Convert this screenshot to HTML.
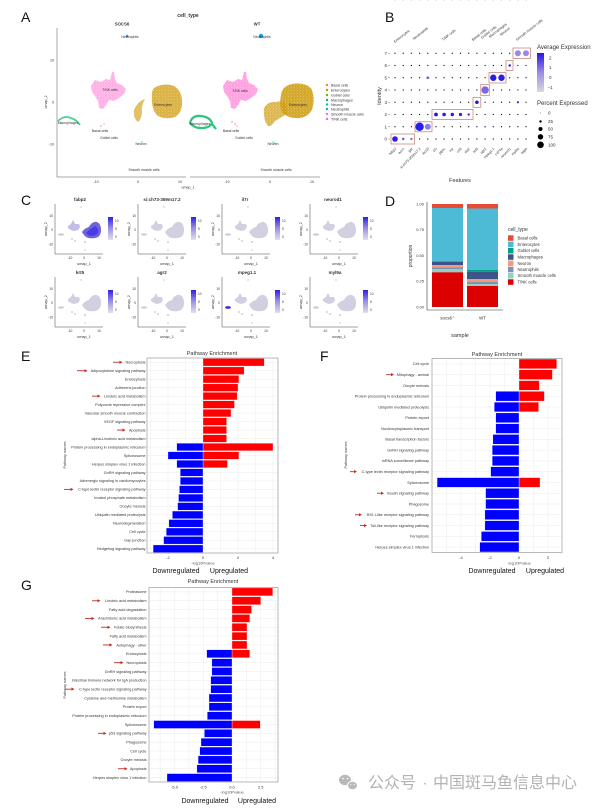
<!DOCTYPE html>
<html><head><meta charset="utf-8">
<style>
html,body{margin:0;padding:0;background:#fff;width:606px;height:812px;overflow:hidden;}
svg{display:block;}
text{font-family:"Liberation Sans","Noto Sans CJK SC",sans-serif;fill:#333;}
.pl{font-size:14px;fill:#111;}
.lab{font-size:3.8px;fill:#444;text-anchor:end;}
.tk{font-size:4px;fill:#555;text-anchor:middle;}
.ud{font-size:7px;fill:#111;text-anchor:middle;}
.ttl{font-size:5.5px;fill:#333;text-anchor:middle;}
.sm{font-size:3.6px;fill:#333;}
.g{stroke:#ebebeb;stroke-width:0.5;}
</style></head><body>
<svg width="606" height="812" viewBox="0 0 606 812" xmlns="http://www.w3.org/2000/svg">
<defs>
<linearGradient id="cbB" x1="0" y1="1" x2="0" y2="0"><stop offset="0" stop-color="#d9d9d9"/><stop offset="0.5" stop-color="#9a8ce6"/><stop offset="1" stop-color="#2a17e0"/></linearGradient>
<linearGradient id="cbC" x1="0" y1="1" x2="0" y2="0"><stop offset="0" stop-color="#e2e0ec"/><stop offset="0.5" stop-color="#9d92e2"/><stop offset="1" stop-color="#2d1ee8"/></linearGradient>
<pattern id="spk" width="3" height="3" patternUnits="userSpaceOnUse">
<circle cx="0.7" cy="0.8" r="0.45" fill="#fff" opacity="0.7"/><circle cx="2.2" cy="2.1" r="0.35" fill="#fff" opacity="0.6"/>
</pattern>
<g id="mini">
<line x1="0" y1="-50" x2="0" y2="0" stroke="#444" stroke-width="0.5"/>
<line x1="0" y1="0" x2="48" y2="0" stroke="#444" stroke-width="0.5"/>
<path d="M13,-28 L16,-30 L18,-34 L20,-30 L24,-30 L25,-27 L23,-24 L19,-23 L16,-24 L13,-26Z" fill="#d2cfe0"/>
<path d="M27,-22 Q30,-26 34,-27 Q37,-33 42,-32 Q46,-30 46,-24 Q46,-17 40,-16 Q33,-15 30,-18 Q28,-20 27,-22Z" fill="#d2cfe0"/>
<ellipse cx="6" cy="-19.5" rx="3" ry="1.3" fill="#cfcbe0"/>
<circle cx="17" cy="-15" r="0.6" fill="#888"/><circle cx="20" cy="-13" r="0.6" fill="#888"/>
<circle cx="30" cy="-12" r="0.6" fill="#777"/><circle cx="30" cy="-4" r="0.5" fill="#777"/>
<circle cx="26" cy="-47" r="0.5" fill="#777"/>
<rect x="53" y="-37" width="5" height="23" fill="url(#cbC)"/>
</g>
</defs>

<!-- Panel letters -->
<text class="pl" x="21" y="22">A</text>
<text class="pl" x="385" y="22">B</text>
<text class="pl" x="21" y="205">C</text>
<text class="pl" x="385" y="206">D</text>
<text class="pl" x="21" y="361">E</text>
<text class="pl" x="320" y="361">F</text>
<text class="pl" x="21" y="590">G</text>

<!-- ============ Panel A ============ -->
<text x="188" y="17" style="font-size:5px;font-weight:bold;text-anchor:middle">cell_type</text>
<text x="122" y="25.5" style="font-size:4.3px;font-weight:bold;text-anchor:middle">SOCS6</text>
<text x="257" y="25.5" style="font-size:4.3px;font-weight:bold;text-anchor:middle">WT</text>
<line x1="57" y1="28" x2="57" y2="177" stroke="#555" stroke-width="0.5"/>
<line x1="57" y1="177" x2="186" y2="177" stroke="#555" stroke-width="0.5"/>
<line x1="190" y1="177" x2="320" y2="177" stroke="#555" stroke-width="0.5"/>
<g class="sm" style="text-anchor:end">
<text x="54" y="61.5">10</text><text x="54" y="103.5">0</text><text x="54" y="145.5">-10</text>
</g>
<g class="sm" style="text-anchor:middle">
<text x="96" y="183">-10</text><text x="138" y="183">0</text><text x="180" y="183">10</text>
<text x="227" y="183">-10</text><text x="270" y="183">0</text><text x="312" y="183">10</text>
</g>
<text x="188" y="188.5" class="sm" style="text-anchor:middle">umap_1</text>
<text transform="translate(47,102) rotate(-90)" class="sm" style="text-anchor:middle">umap_2</text>
<!-- facet 1 -->
<path id="pk1" d="M91,86 L95,80 L101,82 L106,79 L110,80 L112,72 L114,72 L115,79 L117,83 L122,85 L126,89 L124,94 L119,98 L114,101 L109,100 L106,105 L103,109 L99,108 L98,101 L95,96 L92,92Z" fill="#FF61CC" opacity="0.5"/>
<path d="M91,86 L95,80 L101,82 L106,79 L110,80 L112,72 L114,72 L115,79 L117,83 L122,85 L126,89 L124,94 L119,98 L114,101 L109,100 L106,105 L103,109 L99,108 L98,101 L95,96 L92,92Z" fill="url(#spk)"/>
<path d="M152,96 Q151,88 158,86 Q166,83 174,86 Q181,90 182,100 Q183,112 175,117 Q166,120 158,116 Q151,110 152,96Z" fill="#CD9600" opacity="0.75"/>
<path d="M152,96 Q151,88 158,86 Q166,83 174,86 Q181,90 182,100 Q183,112 175,117 Q166,120 158,116 Q151,110 152,96Z" fill="url(#spk)"/>
<path d="M134,110 Q138,101 145,99 Q141,106 142,113 Q141,120 138,122 Q133,118 134,110Z" fill="#CD9600" opacity="0.6"/>
<path d="M58,121 Q64,115 71,118 Q77,120 80,125" stroke="#00BE67" stroke-width="1.8" fill="none" opacity="0.7"/>
<circle cx="127" cy="36" r="1.3" fill="#00A9FF"/>
<circle cx="101" cy="126" r="0.7" fill="#F8766D"/><circle cx="104" cy="124" r="0.6" fill="#F8766D"/>
<circle cx="142" cy="142" r="0.6" fill="#00BFC4"/>
<!-- facet 2 -->
<path d="M223,86 L227,80 L233,82 L238,79 L242,80 L244,72 L246,72 L247,79 L249,83 L254,85 L258,89 L256,94 L251,98 L246,101 L241,100 L238,105 L235,109 L231,108 L230,101 L227,96 L224,92Z" fill="#FF61CC" opacity="0.6"/>
<path d="M223,86 L227,80 L233,82 L238,79 L242,80 L244,72 L246,72 L247,79 L249,83 L254,85 L258,89 L256,94 L251,98 L246,101 L241,100 L238,105 L235,109 L231,108 L230,101 L227,96 L224,92Z" fill="url(#spk)"/>
<path d="M281,95 Q282,86 292,84 Q304,82 311,88 Q315,96 313,106 Q311,116 300,118 Q288,119 282,112 Q279,104 281,95Z" fill="#CD9600" opacity="0.85"/>
<path d="M281,95 Q282,86 292,84 Q304,82 311,88 Q315,96 313,106 Q311,116 300,118 Q288,119 282,112 Q279,104 281,95Z" fill="url(#spk)"/>
<path d="M264,108 Q268,101 276,102 Q282,100 286,104 L287,114 Q280,118 275,121 Q271,127 268,126 Q263,120 264,108Z" fill="#CD9600" opacity="0.7"/>
<path d="M264,108 Q268,101 276,102 Q282,100 286,104 L287,114 Q280,118 275,121 Q271,127 268,126 Q263,120 264,108Z" fill="url(#spk)"/>
<path d="M190,123 Q192,115 201,116 Q210,117 212,123 Q210,128 201,128 Q194,128 190,123Z M212,124 L216,129" stroke="#00BE67" stroke-width="2.2" fill="none" opacity="0.85"/>
<circle cx="261" cy="36" r="2.2" fill="#00A9FF"/>
<circle cx="232" cy="122" r="0.7" fill="#F8766D"/><circle cx="235" cy="124" r="0.7" fill="#F8766D"/><circle cx="237" cy="126" r="0.6" fill="#F8766D"/>
<circle cx="273" cy="142" r="0.6" fill="#00BFC4"/><circle cx="275" cy="143" r="0.6" fill="#00BFC4"/>
<g style="font-size:3.4px;fill:#222;text-anchor:middle">
<text x="130" y="38">Neutrophils</text><text x="110" y="91">T/NK cells</text><text x="163" y="106">Enterocytes</text>
<text x="68" y="124">Macrophages</text><text x="100" y="132">Basal cells</text><text x="109" y="139">Goblet cells</text>
<text x="141" y="145">Neuron</text><text x="144" y="171">Smooth muscle cells</text>
<text x="262" y="38">Neutrophils</text><text x="240" y="92">T/NK cells</text><text x="298" y="106">Enterocytes</text>
<text x="200" y="125">Macrophages</text><text x="231" y="132">Basal cells</text><text x="244" y="139">Goblet cells</text>
<text x="273" y="145">Neuron</text><text x="276" y="171">Smooth muscle cells</text>
</g>
<g style="font-size:3.6px;fill:#333">
<circle cx="327" cy="85" r="1.2" fill="#F8766D"/><text x="331" y="86.3">Basal cells</text>
<circle cx="327" cy="90" r="1.2" fill="#CD9600"/><text x="331" y="91.3">Enterocytes</text>
<circle cx="327" cy="95" r="1.2" fill="#7CAE00"/><text x="331" y="96.3">Goblet cells</text>
<circle cx="327" cy="100" r="1.2" fill="#00BE67"/><text x="331" y="101.3">Macrophages</text>
<circle cx="327" cy="104.5" r="1.2" fill="#00BFC4"/><text x="331" y="105.8">Neuron</text>
<circle cx="327" cy="109" r="1.2" fill="#00A9FF"/><text x="331" y="110.3">Neutrophils</text>
<circle cx="327" cy="114" r="1.2" fill="#C77CFF"/><text x="331" y="115.3">Smooth muscle cells</text>
<circle cx="327" cy="119" r="1.2" fill="#FF61CC"/><text x="331" y="120.3">T/NK cells</text>
</g>

<!-- ============ Panel B ============ -->
<g style="font-size:3.6px;fill:#333">
<text transform="translate(395,43) rotate(-38)">Enterocytes</text>
<text transform="translate(414,40) rotate(-38)">Neutrophils</text>
<text transform="translate(443,41) rotate(-38)">T/NK cells</text>
<text transform="translate(473,41) rotate(-38)">Basal cells</text>
<text transform="translate(482,39) rotate(-38)">Goblet cells</text>
<text transform="translate(490,38) rotate(-38)">Macrophages</text>
<text transform="translate(501,36) rotate(-38)">Neuron</text>
<text transform="translate(517,41) rotate(-38)">Smooth muscle cells</text>
</g>
<g style="font-size:4.5px;fill:#333;text-anchor:end">
<text x="387" y="140.5">0</text><text x="387" y="128.3">1</text><text x="387" y="116">2</text><text x="387" y="103.8">3</text>
<text x="387" y="91.5">4</text><text x="387" y="79.3">5</text><text x="387" y="67">6</text><text x="387" y="54.8">7</text>
</g>
<g stroke="#555" stroke-width="0.4">
<line x1="388" y1="139" x2="390" y2="139"/><line x1="388" y1="126.75" x2="390" y2="126.75"/><line x1="388" y1="114.5" x2="390" y2="114.5"/><line x1="388" y1="102.25" x2="390" y2="102.25"/>
<line x1="388" y1="90" x2="390" y2="90"/><line x1="388" y1="77.75" x2="390" y2="77.75"/><line x1="388" y1="65.5" x2="390" y2="65.5"/><line x1="388" y1="53.25" x2="390" y2="53.25"/>
</g>
<text transform="translate(381,96) rotate(-90)" style="font-size:5.5px;text-anchor:middle">Identity</text>
<g fill="#bdbdbd">
<g id="brow">
<circle cx="395" cy="0" r="0.6"/><circle cx="403.2" cy="0" r="0.6"/><circle cx="411.4" cy="0" r="0.6"/><circle cx="419.6" cy="0" r="0.6"/><circle cx="427.8" cy="0" r="0.6"/><circle cx="436" cy="0" r="0.6"/><circle cx="444.1" cy="0" r="0.6"/><circle cx="452.3" cy="0" r="0.6"/><circle cx="460.5" cy="0" r="0.6"/><circle cx="468.7" cy="0" r="0.6"/><circle cx="476.9" cy="0" r="0.6"/><circle cx="485.1" cy="0" r="0.6"/><circle cx="493.3" cy="0" r="0.6"/><circle cx="501.5" cy="0" r="0.6"/><circle cx="509.7" cy="0" r="0.6"/><circle cx="517.9" cy="0" r="0.6"/><circle cx="526" cy="0" r="0.6"/>
</g>
</g>
<use href="#brow" y="139"/><use href="#brow" y="126.75"/><use href="#brow" y="114.5"/><use href="#brow" y="102.25"/>
<use href="#brow" y="90"/><use href="#brow" y="77.75"/><use href="#brow" y="65.5"/><use href="#brow" y="53.25"/>
<g fill="none" stroke="#c07a72" stroke-width="0.7">
<rect x="391" y="134" width="23.5" height="10"/>
<rect x="415" y="121.8" width="17" height="10"/>
<rect x="432" y="109.5" width="41" height="10"/>
<rect x="473" y="97.3" width="7.8" height="10"/>
<rect x="480.8" y="84.5" width="8.5" height="11"/>
<rect x="489" y="72.5" width="17" height="10.5"/>
<rect x="506" y="60.5" width="7" height="10"/>
<rect x="513" y="48" width="17.5" height="10.5"/>
</g>
<circle cx="395" cy="139" r="2.8" fill="#2a1fe6"/><circle cx="403.2" cy="139" r="1.2" fill="#5a4ee0"/><circle cx="411.4" cy="139" r="1.1" fill="#6a60e0"/>
<circle cx="419.6" cy="126.75" r="4.2" fill="#2a1fe6"/><circle cx="427.8" cy="126.75" r="3" fill="#8a7ce4"/><circle cx="485.1" cy="126.75" r="0.9" fill="#6a60d0"/>
<circle cx="436" cy="114.5" r="1.9" fill="#2418d8"/><circle cx="444.1" cy="114.5" r="1.8" fill="#2a1ed8"/><circle cx="452.3" cy="114.5" r="1.7" fill="#2a1ed8"/><circle cx="460.5" cy="114.5" r="1.6" fill="#3024d8"/><circle cx="468.7" cy="114.5" r="1.1" fill="#3024d8"/>
<circle cx="476.9" cy="102.25" r="1.8" fill="#2418d8"/><circle cx="517.9" cy="102.25" r="1.1" fill="#3a30d8"/>
<circle cx="485.1" cy="90" r="3.7" fill="#7a68e6"/>
<circle cx="427.8" cy="77.75" r="1.4" fill="#6a5ee0"/><circle cx="493.3" cy="77.75" r="3.2" fill="#2a1fe6"/><circle cx="501.5" cy="77.75" r="3.2" fill="#2a1fe6"/>
<circle cx="509.7" cy="65.5" r="1.2" fill="#2418d8"/>
<circle cx="517.9" cy="53.25" r="3" fill="#9a88e8"/><circle cx="526" cy="53.25" r="3" fill="#9a88e8"/>
<g style="font-size:3.5px;fill:#333;text-anchor:end">
<text transform="translate(396.5,149) rotate(-45)">fabp2</text>
<text transform="translate(404.7,149) rotate(-45)">aoc1</text>
<text transform="translate(412.9,149) rotate(-45)">gsr</text>
<text transform="translate(421.1,149) rotate(-45)">si:ch73-359m17.2</text>
<text transform="translate(429.3,149) rotate(-45)">lect2l</text>
<text transform="translate(437.5,149) rotate(-45)">il7r</text>
<text transform="translate(445.6,149) rotate(-45)">ptprc</text>
<text transform="translate(453.8,149) rotate(-45)">lck</text>
<text transform="translate(462,149) rotate(-45)">cd3</text>
<text transform="translate(470.2,149) rotate(-45)">sla2</text>
<text transform="translate(478.4,149) rotate(-45)">krt5</text>
<text transform="translate(486.6,149) rotate(-45)">agr2</text>
<text transform="translate(494.8,149) rotate(-45)">mpeg1.1</text>
<text transform="translate(503,149) rotate(-45)">cd74a</text>
<text transform="translate(511.2,149) rotate(-45)">neurod1</text>
<text transform="translate(519.4,149) rotate(-45)">myl9a</text>
<text transform="translate(527.5,149) rotate(-45)">tagln</text>
</g>
<text x="460" y="182" style="font-size:5.5px;text-anchor:middle">Features</text>
<text x="537" y="49" style="font-size:6px">Average Expression</text>
<rect x="537" y="53" width="7" height="39" fill="url(#cbB)"/>
<g style="font-size:4.5px;fill:#333">
<text x="549" y="59.5">2</text><text x="549" y="69">1</text><text x="549" y="79">0</text><text x="547.5" y="89">−1</text>
</g>
<text x="537" y="105" style="font-size:6px">Percent Expressed</text>
<circle cx="540.5" cy="113" r="0.35" fill="#000"/><circle cx="540.5" cy="121.5" r="1.2" fill="#000"/><circle cx="540.5" cy="129" r="2" fill="#000"/><circle cx="540.5" cy="136.8" r="2.7" fill="#000"/><circle cx="540.5" cy="144.8" r="3.3" fill="#000"/>
<g style="font-size:4.5px;fill:#333">
<text x="548" y="114.5">0</text><text x="548" y="123">25</text><text x="548" y="130.5">50</text><text x="548" y="138.3">75</text><text x="548" y="146.3">100</text>
</g>

<!-- ============ Panel C ============ -->
<use href="#mini" x="55" y="254"/><use href="#mini" x="138" y="254"/><use href="#mini" x="222" y="254"/><use href="#mini" x="310" y="254"/>
<use href="#mini" x="55" y="327"/><use href="#mini" x="138" y="327"/><use href="#mini" x="222" y="327"/><use href="#mini" x="310" y="327"/>
<path d="M82,232 Q85,228 89,227 Q92,221 97,222 Q101,224 101,230 Q101,237 95,238 Q88,239 85,236 Q83,234 82,232Z" fill="#6f62de"/>
<path d="M86,233 Q90,229 95,226 Q99,228 98,233 Q95,236 90,236Z" fill="#4a3ce0"/>
<path d="M68,226 L71,224 L73,220 L75,224 L79,224 L80,227 L78,230 L74,231 L71,230 L68,228Z" fill="#c4bde8"/>
<ellipse cx="228" cy="307.5" rx="3" ry="1.4" fill="#4030d8"/>
<g style="font-size:4.5px;font-weight:bold;text-anchor:middle;fill:#222">
<text x="80" y="201">fabp2</text><text x="162" y="201">si:ch73-359m17.2</text><text x="245" y="201">il7r</text><text x="333" y="201">neurod1</text>
<text x="80" y="274">krt5</text><text x="162" y="274">agr2</text><text x="247" y="274">mpeg1.1</text><text x="335" y="274">myl9a</text>
</g>
<g style="font-size:3.3px;fill:#444;text-anchor:end">
<text x="53" y="217">10</text><text x="53" y="231">0</text><text x="53" y="245.5">-10</text>
<text x="136" y="217">10</text><text x="136" y="231">0</text><text x="136" y="245.5">-10</text>
<text x="220" y="217">10</text><text x="220" y="231">0</text><text x="220" y="245.5">-10</text>
<text x="308" y="217">10</text><text x="308" y="231">0</text><text x="308" y="245.5">-10</text>
<text x="53" y="290">10</text><text x="53" y="304">0</text><text x="53" y="318.5">-10</text>
<text x="136" y="290">10</text><text x="136" y="304">0</text><text x="136" y="318.5">-10</text>
<text x="220" y="290">10</text><text x="220" y="304">0</text><text x="220" y="318.5">-10</text>
<text x="308" y="290">10</text><text x="308" y="304">0</text><text x="308" y="318.5">-10</text>
</g>
<g style="font-size:3.3px;fill:#444;text-anchor:middle">
<text x="70" y="259">-10</text><text x="84" y="259">0</text><text x="99" y="259">10</text>
<text x="153" y="259">-10</text><text x="167" y="259">0</text><text x="182" y="259">10</text>
<text x="237" y="259">-10</text><text x="251" y="259">0</text><text x="266" y="259">10</text>
<text x="325" y="259">-10</text><text x="339" y="259">0</text><text x="354" y="259">10</text>
<text x="70" y="332">-10</text><text x="84" y="332">0</text><text x="99" y="332">10</text>
<text x="153" y="332">-10</text><text x="167" y="332">0</text><text x="182" y="332">10</text>
<text x="237" y="332">-10</text><text x="251" y="332">0</text><text x="266" y="332">10</text>
<text x="325" y="332">-10</text><text x="339" y="332">0</text><text x="354" y="332">10</text>
</g>
<g style="font-size:3.8px;fill:#333;text-anchor:middle">
<text x="84" y="265">umap_1</text><text x="167" y="265">umap_1</text><text x="251" y="265">umap_1</text><text x="339" y="265">umap_1</text>
<text x="84" y="338">umap_1</text><text x="167" y="338">umap_1</text><text x="251" y="338">umap_1</text><text x="339" y="338">umap_1</text>
<text transform="translate(47,229) rotate(-90)">umap_2</text><text transform="translate(130,229) rotate(-90)">umap_2</text><text transform="translate(214,229) rotate(-90)">umap_2</text><text transform="translate(302,229) rotate(-90)">umap_2</text>
<text transform="translate(47,302) rotate(-90)">umap_2</text><text transform="translate(130,302) rotate(-90)">umap_2</text><text transform="translate(214,302) rotate(-90)">umap_2</text><text transform="translate(302,302) rotate(-90)">umap_2</text>
</g>
<g style="font-size:3.2px;fill:#444">
<text x="115" y="222">10</text><text x="115" y="230">5</text><text x="115" y="238">0</text>
<text x="198" y="222">10</text><text x="198" y="230">5</text><text x="198" y="238">0</text>
<text x="282" y="222">10</text><text x="282" y="230">5</text><text x="282" y="238">0</text>
<text x="370" y="222">10</text><text x="370" y="230">5</text><text x="370" y="238">0</text>
<text x="115" y="295">10</text><text x="115" y="303">5</text><text x="115" y="311">0</text>
<text x="198" y="295">10</text><text x="198" y="303">5</text><text x="198" y="311">0</text>
<text x="282" y="295">10</text><text x="282" y="303">5</text><text x="282" y="311">0</text>
<text x="370" y="295">10</text><text x="370" y="303">5</text><text x="370" y="311">0</text>
</g>

<!-- ============ Panel D ============ -->
<line x1="427" y1="202" x2="427" y2="310" stroke="#333" stroke-width="0.6"/>
<line x1="427" y1="310" x2="503" y2="310" stroke="#333" stroke-width="0.6"/>
<g style="font-size:4px;fill:#444;text-anchor:end">
<text x="424" y="205.5">1.00</text><text x="424" y="231.2">0.75</text><text x="424" y="256.9">0.50</text><text x="424" y="282.6">0.25</text><text x="424" y="308.3">0.00</text>
</g>
<rect x="432" y="204" width="31" height="4" fill="#E64B35"/>
<rect x="432" y="208" width="31" height="54" fill="#4DBBD5"/>
<rect x="432" y="261.7" width="31" height="3.3" fill="#3C5488"/>
<rect x="432" y="265" width="31" height="2.3" fill="#F39B7F"/>
<rect x="432" y="267.3" width="31" height="2" fill="#8491B4"/>
<rect x="432" y="269.3" width="31" height="3" fill="#91D1C2"/>
<rect x="432" y="272.3" width="31" height="34.7" fill="#DC0000"/>
<rect x="467" y="204" width="31" height="4.5" fill="#E64B35"/>
<rect x="467" y="208.5" width="31" height="61.5" fill="#4DBBD5"/>
<rect x="467" y="270" width="31" height="1.7" fill="#00A087"/>
<rect x="467" y="271.7" width="31" height="7.3" fill="#3C5488"/>
<rect x="467" y="279" width="31" height="2.7" fill="#F39B7F"/>
<rect x="467" y="281.7" width="31" height="2.3" fill="#8491B4"/>
<rect x="467" y="284" width="31" height="2" fill="#91D1C2"/>
<rect x="467" y="286" width="31" height="21" fill="#DC0000"/>
<text x="447.5" y="319.5" style="font-size:4.5px;text-anchor:middle">socs6<tspan dy="-1.5" style="font-size:3px">-/-</tspan></text>
<text x="482.5" y="319.5" style="font-size:4.5px;text-anchor:middle">WT</text>
<text x="460" y="337" style="font-size:5.5px;text-anchor:middle">sample</text>
<text transform="translate(412,256) rotate(-90)" style="font-size:5px;text-anchor:middle">proportion</text>
<text x="508" y="231" style="font-size:5px">cell_type</text>
<g style="font-size:4.2px;fill:#333">
<rect x="508" y="235.3" width="5.5" height="5.5" fill="#E64B35"/><text x="517.5" y="239.5">Basal cells</text>
<rect x="508" y="241.6" width="5.5" height="5.5" fill="#4DBBD5"/><text x="517.5" y="245.8">Enterocytes</text>
<rect x="508" y="248" width="5.5" height="5.5" fill="#00A087"/><text x="517.5" y="252.2">Goblet cells</text>
<rect x="508" y="254.3" width="5.5" height="5.5" fill="#3C5488"/><text x="517.5" y="258.5">Macrophages</text>
<rect x="508" y="260.6" width="5.5" height="5.5" fill="#F39B7F"/><text x="517.5" y="264.8">Neuron</text>
<rect x="508" y="266.8" width="5.5" height="5.5" fill="#8491B4"/><text x="517.5" y="271">Neutrophils</text>
<rect x="508" y="273" width="5.5" height="5.5" fill="#91D1C2"/><text x="517.5" y="277.2">Smooth muscle cells</text>
<rect x="508" y="279.3" width="5.5" height="5.5" fill="#DC0000"/><text x="517.5" y="283.5">T/NK cells</text>
</g>

<!-- ============ Panel E ============ -->
<text class="ttl" x="212" y="355">Pathway Enrichment</text>
<g class="g">
<line x1="150.5" y1="358" x2="150.5" y2="553"/><line x1="168" y1="358" x2="168" y2="553"/><line x1="185.5" y1="358" x2="185.5" y2="553"/><line x1="203" y1="358" x2="203" y2="553"/><line x1="220.5" y1="358" x2="220.5" y2="553"/><line x1="238" y1="358" x2="238" y2="553"/><line x1="255.5" y1="358" x2="255.5" y2="553"/><line x1="273" y1="358" x2="273" y2="553"/>
<line x1="147" y1="362.24" x2="278" y2="362.24"/><line x1="147" y1="370.72" x2="278" y2="370.72"/><line x1="147" y1="379.2" x2="278" y2="379.2"/><line x1="147" y1="387.67" x2="278" y2="387.67"/><line x1="147" y1="396.15" x2="278" y2="396.15"/><line x1="147" y1="404.63" x2="278" y2="404.63"/><line x1="147" y1="413.11" x2="278" y2="413.11"/><line x1="147" y1="421.59" x2="278" y2="421.59"/><line x1="147" y1="430.07" x2="278" y2="430.07"/><line x1="147" y1="438.54" x2="278" y2="438.54"/><line x1="147" y1="447.02" x2="278" y2="447.02"/><line x1="147" y1="455.5" x2="278" y2="455.5"/><line x1="147" y1="463.98" x2="278" y2="463.98"/><line x1="147" y1="472.46" x2="278" y2="472.46"/><line x1="147" y1="480.93" x2="278" y2="480.93"/><line x1="147" y1="489.41" x2="278" y2="489.41"/><line x1="147" y1="497.89" x2="278" y2="497.89"/><line x1="147" y1="506.37" x2="278" y2="506.37"/><line x1="147" y1="514.85" x2="278" y2="514.85"/><line x1="147" y1="523.33" x2="278" y2="523.33"/><line x1="147" y1="531.8" x2="278" y2="531.8"/><line x1="147" y1="540.28" x2="278" y2="540.28"/><line x1="147" y1="548.76" x2="278" y2="548.76"/>
</g>
<g fill="#ff0000" stroke="#fff" stroke-width="0.3">
<rect x="203" y="358.44" width="61.3" height="7.6"/><rect x="203" y="366.92" width="41.1" height="7.6"/><rect x="203" y="375.4" width="35.9" height="7.6"/><rect x="203" y="383.87" width="35" height="7.6"/><rect x="203" y="392.35" width="34.1" height="7.6"/><rect x="203" y="400.83" width="31.5" height="7.6"/><rect x="203" y="409.31" width="28" height="7.6"/><rect x="203" y="417.79" width="23.6" height="7.6"/><rect x="203" y="426.27" width="23.6" height="7.6"/><rect x="203" y="434.74" width="23.6" height="7.6"/><rect x="203" y="443.22" width="70" height="7.6"/><rect x="203" y="451.7" width="35.9" height="7.6"/><rect x="203" y="460.18" width="24.5" height="7.6"/>
</g>
<g fill="#0000ff" stroke="#fff" stroke-width="0.3">
<rect x="176.75" y="443.22" width="26.25" height="7.6"/><rect x="168" y="451.7" width="35" height="7.6"/><rect x="176.75" y="460.18" width="26.25" height="7.6"/><rect x="180.25" y="468.66" width="22.75" height="7.6"/><rect x="180.25" y="477.13" width="22.75" height="7.6"/><rect x="179.4" y="485.61" width="23.6" height="7.6"/><rect x="178.5" y="494.09" width="24.5" height="7.6"/><rect x="177.6" y="502.57" width="25.4" height="7.6"/><rect x="172.4" y="511.05" width="30.6" height="7.6"/><rect x="168.9" y="519.53" width="34.1" height="7.6"/><rect x="166.25" y="528" width="36.75" height="7.6"/><rect x="163.6" y="536.48" width="39.4" height="7.6"/><rect x="153.1" y="544.96" width="49.9" height="7.6"/>
</g>
<rect x="147" y="358" width="131" height="195" fill="none" stroke="#8a8a8a" stroke-width="0.6"/>
<g class="lab">
<text x="145.5" y="363.5">Necroptosis</text><text x="145.5" y="372">Adipocytokine signaling pathway</text><text x="145.5" y="380.5">Endocytosis</text><text x="145.5" y="389">Adherens junction</text><text x="145.5" y="397.4">Linoleic acid metabolism</text><text x="145.5" y="405.9">Polycomb repressive complex</text><text x="145.5" y="414.4">Vascular smooth muscle contraction</text><text x="145.5" y="422.9">VEGF signaling pathway</text><text x="145.5" y="431.4">Apoptosis</text><text x="145.5" y="439.8">alpha-Linolenic acid metabolism</text><text x="145.5" y="448.3">Protein processing in endoplasmic reticulum</text><text x="145.5" y="456.8">Spliceosome</text><text x="145.5" y="465.3">Herpes simplex virus 1 infection</text><text x="145.5" y="473.8">GnRH signaling pathway</text><text x="145.5" y="482.2">Adrenergic signaling in cardiomyocytes</text><text x="145.5" y="490.7">C-type lectin receptor signaling pathway</text><text x="145.5" y="499.2">Inositol phosphate metabolism</text><text x="145.5" y="507.7">Oocyte meiosis</text><text x="145.5" y="516.2">Ubiquitin mediated proteolysis</text><text x="145.5" y="524.6">Neurodegeneration</text><text x="145.5" y="533.1">Cell cycle</text><text x="145.5" y="541.6">Gap junction</text><text x="145.5" y="550.1">Hedgehog signaling pathway</text>
</g>
<text transform="translate(66,455) rotate(-90)" style="font-size:3.8px;text-anchor:middle;fill:#444">Pathway names</text>
<g class="tk"><text x="168" y="559">-2</text><text x="203" y="559">0</text><text x="238" y="559">2</text><text x="273" y="559">4</text></g>
<text class="tk" x="203" y="564.5">-log10Pvalue</text>
<text class="ud" x="176" y="573">Downregulated</text><text class="ud" x="229" y="573">Upregulated</text>

<!-- ============ Panel F ============ -->
<text class="ttl" x="497" y="356">Pathway Enrichment</text>
<g class="g">
<line x1="446.5" y1="358.5" x2="446.5" y2="552.5"/><line x1="461" y1="358.5" x2="461" y2="552.5"/><line x1="475.5" y1="358.5" x2="475.5" y2="552.5"/><line x1="490" y1="358.5" x2="490" y2="552.5"/><line x1="504.5" y1="358.5" x2="504.5" y2="552.5"/><line x1="519" y1="358.5" x2="519" y2="552.5"/><line x1="533.5" y1="358.5" x2="533.5" y2="552.5"/><line x1="548" y1="358.5" x2="548" y2="552.5"/>
<line x1="432" y1="363.89" x2="562" y2="363.89"/><line x1="432" y1="374.67" x2="562" y2="374.67"/><line x1="432" y1="385.45" x2="562" y2="385.45"/><line x1="432" y1="396.22" x2="562" y2="396.22"/><line x1="432" y1="407" x2="562" y2="407"/><line x1="432" y1="417.78" x2="562" y2="417.78"/><line x1="432" y1="428.56" x2="562" y2="428.56"/><line x1="432" y1="439.34" x2="562" y2="439.34"/><line x1="432" y1="450.11" x2="562" y2="450.11"/><line x1="432" y1="460.89" x2="562" y2="460.89"/><line x1="432" y1="471.67" x2="562" y2="471.67"/><line x1="432" y1="482.45" x2="562" y2="482.45"/><line x1="432" y1="493.23" x2="562" y2="493.23"/><line x1="432" y1="504.01" x2="562" y2="504.01"/><line x1="432" y1="514.78" x2="562" y2="514.78"/><line x1="432" y1="525.56" x2="562" y2="525.56"/><line x1="432" y1="536.34" x2="562" y2="536.34"/><line x1="432" y1="547.12" x2="562" y2="547.12"/>
</g>
<g fill="#ff0000" stroke="#fff" stroke-width="0.3">
<rect x="519" y="359.04" width="37.7" height="9.7"/><rect x="519" y="369.82" width="33.4" height="9.7"/><rect x="519" y="380.6" width="20.3" height="9.7"/><rect x="519" y="391.37" width="25.4" height="9.7"/><rect x="519" y="402.15" width="19.6" height="9.7"/><rect x="519" y="477.6" width="21" height="9.7"/>
</g>
<g fill="#0000ff" stroke="#fff" stroke-width="0.3">
<rect x="495.8" y="391.37" width="23.2" height="9.7"/><rect x="494.3" y="402.15" width="24.7" height="9.7"/><rect x="495.8" y="412.93" width="23.2" height="9.7"/><rect x="495.8" y="423.71" width="23.2" height="9.7"/><rect x="492.9" y="434.49" width="26.1" height="9.7"/><rect x="492.2" y="445.26" width="26.8" height="9.7"/><rect x="492.2" y="456.04" width="26.8" height="9.7"/><rect x="490.7" y="466.82" width="28.3" height="9.7"/><rect x="437.1" y="477.6" width="81.9" height="9.7"/><rect x="485.6" y="488.38" width="33.4" height="9.7"/><rect x="485.6" y="499.16" width="33.4" height="9.7"/><rect x="484.9" y="509.93" width="34.1" height="9.7"/><rect x="484.9" y="520.71" width="34.1" height="9.7"/><rect x="481.3" y="531.49" width="37.7" height="9.7"/><rect x="479.8" y="542.27" width="39.2" height="9.7"/>
</g>
<rect x="432" y="358.5" width="130" height="194" fill="none" stroke="#8a8a8a" stroke-width="0.6"/>
<g class="lab">
<text x="429" y="365.2">Cell cycle</text><text x="429" y="376">Mitophagy - animal</text><text x="429" y="386.8">Oocyte meiosis</text><text x="429" y="397.5">Protein processing in endoplasmic reticulum</text><text x="429" y="408.3">Ubiquitin mediated proteolysis</text><text x="429" y="419.1">Protein export</text><text x="429" y="429.9">Nucleocytoplasmic transport</text><text x="429" y="440.6">Basal transcription factors</text><text x="429" y="451.4">GnRH signaling pathway</text><text x="429" y="462.2">mRNA surveillance pathway</text><text x="429" y="473">C-type lectin receptor signaling pathway</text><text x="429" y="483.8">Spliceosome</text><text x="429" y="494.5">Insulin signaling pathway</text><text x="429" y="505.3">Phagosome</text><text x="429" y="516.1">RIG-I-like receptor signaling pathway</text><text x="429" y="526.9">Toll-like receptor signaling pathway</text><text x="429" y="537.6">Ferroptosis</text><text x="429" y="548.4">Herpes simplex virus 1 infection</text>
</g>
<text transform="translate(347,455) rotate(-90)" style="font-size:3.8px;text-anchor:middle;fill:#444">Pathway names</text>
<g class="tk"><text x="461" y="559">-4</text><text x="490" y="559">-2</text><text x="519" y="559">0</text><text x="548" y="559">2</text></g>
<text class="tk" x="519" y="564.5">-log10Pvalue</text>
<text class="ud" x="492" y="573">Downregulated</text><text class="ud" x="545" y="573">Upregulated</text>

<!-- ============ Panel G ============ -->
<text class="ttl" x="213" y="583">Pathway Enrichment</text>
<g class="g">
<line x1="160.1" y1="587.5" x2="160.1" y2="782"/><line x1="174.5" y1="587.5" x2="174.5" y2="782"/><line x1="188.9" y1="587.5" x2="188.9" y2="782"/><line x1="203.25" y1="587.5" x2="203.25" y2="782"/><line x1="217.6" y1="587.5" x2="217.6" y2="782"/><line x1="232" y1="587.5" x2="232" y2="782"/><line x1="246.4" y1="587.5" x2="246.4" y2="782"/><line x1="260.75" y1="587.5" x2="260.75" y2="782"/><line x1="275.1" y1="587.5" x2="275.1" y2="782"/>
<line x1="149" y1="591.92" x2="278" y2="591.92"/><line x1="149" y1="600.76" x2="278" y2="600.76"/><line x1="149" y1="609.6" x2="278" y2="609.6"/><line x1="149" y1="618.44" x2="278" y2="618.44"/><line x1="149" y1="627.28" x2="278" y2="627.28"/><line x1="149" y1="636.12" x2="278" y2="636.12"/><line x1="149" y1="644.96" x2="278" y2="644.96"/><line x1="149" y1="653.8" x2="278" y2="653.8"/><line x1="149" y1="662.64" x2="278" y2="662.64"/><line x1="149" y1="671.48" x2="278" y2="671.48"/><line x1="149" y1="680.32" x2="278" y2="680.32"/><line x1="149" y1="689.16" x2="278" y2="689.16"/><line x1="149" y1="698" x2="278" y2="698"/><line x1="149" y1="706.84" x2="278" y2="706.84"/><line x1="149" y1="715.68" x2="278" y2="715.68"/><line x1="149" y1="724.52" x2="278" y2="724.52"/><line x1="149" y1="733.36" x2="278" y2="733.36"/><line x1="149" y1="742.2" x2="278" y2="742.2"/><line x1="149" y1="751.04" x2="278" y2="751.04"/><line x1="149" y1="759.88" x2="278" y2="759.88"/><line x1="149" y1="768.72" x2="278" y2="768.72"/><line x1="149" y1="777.56" x2="278" y2="777.56"/>
</g>
<g fill="#ff0000" stroke="#fff" stroke-width="0.3">
<rect x="232" y="587.94" width="40.8" height="7.95"/><rect x="232" y="596.78" width="28.75" height="7.95"/><rect x="232" y="605.62" width="19.55" height="7.95"/><rect x="232" y="614.46" width="17.8" height="7.95"/><rect x="232" y="623.3" width="15" height="7.95"/><rect x="232" y="632.14" width="15" height="7.95"/><rect x="232" y="640.98" width="15" height="7.95"/><rect x="232" y="649.82" width="17.8" height="7.95"/><rect x="232" y="720.54" width="28.2" height="7.95"/>
</g>
<g fill="#0000ff" stroke="#fff" stroke-width="0.3">
<rect x="206.7" y="649.82" width="25.3" height="7.95"/><rect x="211.9" y="658.66" width="20.1" height="7.95"/><rect x="211.9" y="667.5" width="20.1" height="7.95"/><rect x="210.7" y="676.34" width="21.3" height="7.95"/><rect x="210.7" y="685.18" width="21.3" height="7.95"/><rect x="209" y="694.02" width="23" height="7.95"/><rect x="209" y="702.86" width="23" height="7.95"/><rect x="207.3" y="711.7" width="24.7" height="7.95"/><rect x="153.8" y="720.54" width="78.2" height="7.95"/><rect x="204.4" y="729.38" width="27.6" height="7.95"/><rect x="201" y="738.22" width="31" height="7.95"/><rect x="199.8" y="747.06" width="32.2" height="7.95"/><rect x="198.1" y="755.9" width="33.9" height="7.95"/><rect x="196.9" y="764.74" width="35.1" height="7.95"/><rect x="167" y="773.58" width="65" height="7.95"/>
</g>
<rect x="149" y="587.5" width="129" height="194.5" fill="none" stroke="#8a8a8a" stroke-width="0.6"/>
<g class="lab">
<text x="146.5" y="593.2">Proteasome</text><text x="146.5" y="602.1">Linoleic acid metabolism</text><text x="146.5" y="610.9">Fatty acid degradation</text><text x="146.5" y="619.7">Arachidonic acid metabolism</text><text x="146.5" y="628.6">Folate biosynthesis</text><text x="146.5" y="637.4">Fatty acid metabolism</text><text x="146.5" y="646.3">Autophagy - other</text><text x="146.5" y="655.1">Endocytosis</text><text x="146.5" y="663.9">Necroptosis</text><text x="146.5" y="672.8">GnRH signaling pathway</text><text x="146.5" y="681.6">Intestinal immune network for IgA production</text><text x="146.5" y="690.5">C-type lectin receptor signaling pathway</text><text x="146.5" y="699.3">Cysteine and methionine metabolism</text><text x="146.5" y="708.1">Protein export</text><text x="146.5" y="717">Protein processing in endoplasmic reticulum</text><text x="146.5" y="725.8">Spliceosome</text><text x="146.5" y="734.7">p53 signaling pathway</text><text x="146.5" y="743.5">Phagosome</text><text x="146.5" y="752.3">Cell cycle</text><text x="146.5" y="761.2">Oocyte meiosis</text><text x="146.5" y="770">Apoptosis</text><text x="146.5" y="778.9">Herpes simplex virus 1 infection</text>
</g>
<text transform="translate(66,685) rotate(-90)" style="font-size:3.8px;text-anchor:middle;fill:#444">Pathway names</text>
<g class="tk"><text x="174.5" y="788.5">-5.0</text><text x="203.25" y="788.5">-2.5</text><text x="232" y="788.5">0.0</text><text x="260.75" y="788.5">2.5</text></g>
<text class="tk" x="232" y="793.5">-log10Pvalue</text>
<text class="ud" x="205" y="803">Downregulated</text><text class="ud" x="257" y="803">Upregulated</text>

<!-- Arrows -->
<g stroke="#c0302a" stroke-width="0.9" fill="none">
<path d="M113,362.24 H120"/><path d="M77,370.72 H85"/><path d="M92,396.15 H98"/><path d="M117,430.07 H123"/><path d="M64,489.41 H71"/>
<path d="M386,374.67 H391.5"/><path d="M350,471.67 H354.5"/><path d="M377,493.23 H381.5"/><path d="M355,514.78 H359.5"/><path d="M360,525.56 H364.5"/>
<path d="M92,600.76 H98"/><path d="M85,618.44 H92"/><path d="M101,627.28 H108"/><path d="M103,644.96 H110"/><path d="M114,662.64 H121"/><path d="M65,689.16 H72"/><path d="M98,733.36 H104"/><path d="M118,768.72 H125"/>
</g>
<g fill="#c0302a">
<polygon points="119.5,360.6 122.5,362.24 119.5,363.9"/><polygon points="84.5,369.1 87.5,370.72 84.5,372.4"/><polygon points="97.5,394.5 100.5,396.15 97.5,397.8"/><polygon points="122.5,428.4 125.5,430.07 122.5,431.7"/><polygon points="70.5,487.8 73.5,489.41 70.5,491"/>
<polygon points="391,373 394,374.67 391,376.3"/><polygon points="354,470 357,471.67 354,473.3"/><polygon points="381,491.6 384,493.23 381,494.9"/><polygon points="359,513.1 362,514.78 359,516.4"/><polygon points="364,523.9 367,525.56 364,527.2"/>
<polygon points="97.5,599.1 100.5,600.76 97.5,602.4"/><polygon points="91.5,616.8 94.5,618.44 91.5,620.1"/><polygon points="107.5,625.6 110.5,627.28 107.5,628.9"/><polygon points="109.5,643.3 112.5,644.96 109.5,646.6"/><polygon points="120.5,661 123.5,662.64 120.5,664.3"/><polygon points="71.5,687.5 74.5,689.16 71.5,690.8"/><polygon points="103.5,731.7 106.5,733.36 103.5,735"/><polygon points="124.5,767.1 127.5,768.72 124.5,770.4"/>
</g>

<!-- Watermark -->
<g fill="#b9b9b9">
<ellipse cx="345" cy="780" rx="6" ry="5.2"/>
<ellipse cx="352.5" cy="785.5" rx="5" ry="4.3" stroke="#fff" stroke-width="1"/>
</g>
<g fill="#fff"><circle cx="343" cy="778.5" r="0.8"/><circle cx="347.5" cy="778.5" r="0.8"/><circle cx="350.8" cy="784.8" r="0.6"/><circle cx="354.2" cy="784.8" r="0.6"/></g>
<text x="368" y="788" style="font-family:'Noto Sans CJK SC','WenQuanYi Zen Hei',sans-serif;font-size:16px;fill:#b3b3b3">公众号</text>
<text x="425" y="788" style="font-family:'Liberation Sans',sans-serif;font-size:16px;fill:#b3b3b3;text-anchor:middle">·</text>
<text x="433" y="788" style="font-family:'Noto Sans CJK SC','WenQuanYi Zen Hei',sans-serif;font-size:16px;fill:#b3b3b3">中国斑马鱼信息中心</text>
</svg>
</body></html>
